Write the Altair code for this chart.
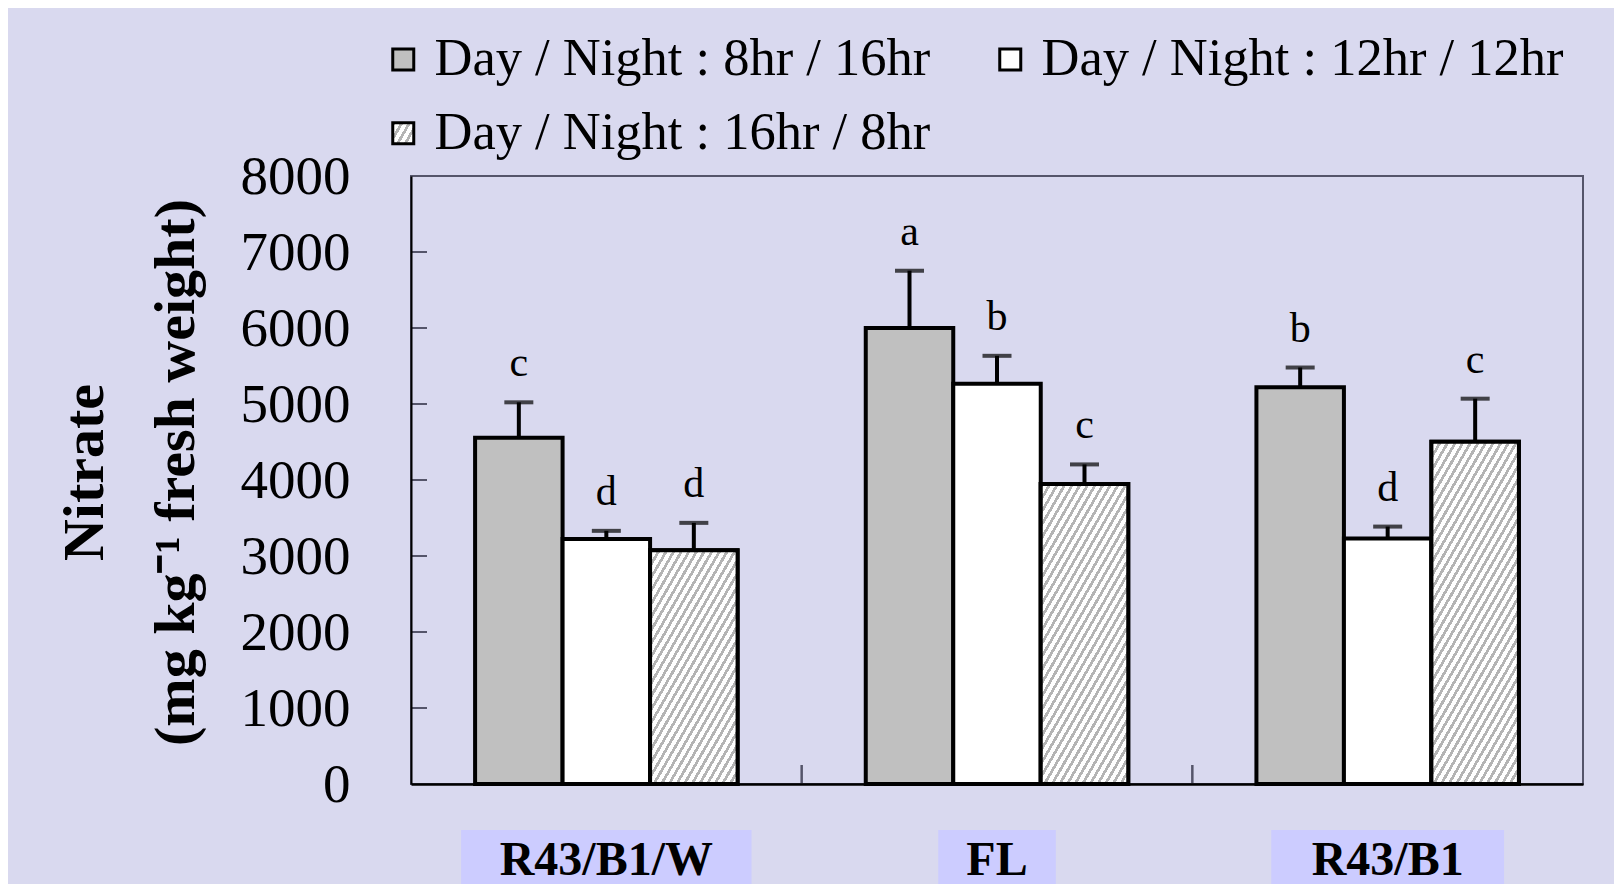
import math
import json
import altair as alt
import pandas as pd

# ---------------- data ----------------
categories = ["R43/B1/W", "FL", "R43/B1"]
series = ["Day / Night : 8hr / 16hr", "Day / Night : 12hr / 12hr", "Day / Night : 16hr / 8hr"]

values_8_16 = [4556, 6000, 5220]
values_12_12 = [3225, 5266, 3230]
values_16_8 = [3077, 3946, 4504]

se_8_16 = [466, 754, 260]
se_12_12 = [106, 368, 157]
se_16_8 = [359, 259, 566]

letters_8_16 = ["c", "a", "b"]
letters_12_12 = ["d", "b", "d"]
letters_16_8 = ["d", "c", "c"]

y_ticks = [0, 1000, 2000, 3000, 4000, 5000, 6000, 7000, 8000]

rows = []
for s, vals, ses, lets in [
    (series[0], values_8_16, se_8_16, letters_8_16),
    (series[1], values_12_12, se_12_12, letters_12_12),
    (series[2], values_16_8, se_16_8, letters_16_8),
]:
    for c, v, e, l in zip(categories, vals, ses, lets):
        rows.append({"category": c, "series": s, "value": v, "se": e, "letter": l})
df = pd.DataFrame(rows)
df["hi"] = df["value"] + df["se"]
ticks_df = pd.DataFrame({"value": y_ticks})
bounds_df = pd.DataFrame({"category": categories[1:]})

# ---------------- layout / style ----------------
W, H = 1172, 608
Y_MAX = 8000
PAD_OUTER = 0.7325
BAR_W = (W / 3) / (3 + 2 * PAD_OUTER)
FONT = "Liberation Serif"
GRAY = "#c0c0c0"
HATCH_LINE = "#b4b4b4"
HATCH_ANGLE = math.radians(60)
HATCH_PERIOD = 6.6
HATCH_FRAC = 0.42


def hatch_gradient(w, h):
    a = (w / h) * math.tan(HATCH_ANGLE)
    b = 1.0
    s = (a + b) / (a * a + b * b)
    d = w * math.sin(HATCH_ANGLE) + h * math.cos(HATCH_ANGLE)
    n = d / HATCH_PERIOD
    stops = []
    k = 0
    while k / n < 1:
        o0 = round(k / n, 5)
        o1 = round(min((k + HATCH_FRAC) / n, 1), 5)
        o2 = round(min((k + 1) / n, 1), 5)
        stops += [
            {"offset": o0, "color": HATCH_LINE},
            {"offset": o1, "color": HATCH_LINE},
            {"offset": o1, "color": "#ffffff"},
            {"offset": o2, "color": "#ffffff"},
        ]
        k += 1
    return {"gradient": "linear", "x1": 0, "y1": 0,
            "x2": round(s * a, 5), "y2": round(s * b, 5), "stops": stops}


legend_grad_expr = json.dumps(hatch_gradient(21, 21))

# legend lays entries out column by column: order so rows read 8/16, 12/12 then 16/8
legend_order = [series[0], series[2], series[1]]
legend_colors = {series[0]: GRAY, series[1]: "#ffffff", series[2]: {"expr": legend_grad_expr}}

x_scale = alt.Scale(domain=categories, paddingInner=0, paddingOuter=0)
xo_scale = alt.Scale(domain=series, paddingInner=0, paddingOuter=PAD_OUTER)
y_scale = alt.Scale(domain=[0, Y_MAX], nice=False, zero=True)

x_axis = alt.Axis(
    title=None, ticks=False, labelAngle=0, labelFont=FONT, labelFontWeight="bold",
    labelFontSize=48, labelPadding=52, labelColor="black", labelLimit=1000,
    domainColor="black", domainWidth=2.5, grid=False, zindex=1,
)
y_axis = alt.Axis(
    values=y_ticks, format="d", ticks=False, grid=False, labelFont=FONT, labelFontSize=55,
    labelPadding=61, labelColor="black", domainColor="black", domainWidth=2,
    title=["Nitrate", "(mg kg\u207b\u00b9 fresh weight)"], titleFont=FONT,
    titleFontSize=58, titleFontWeight="bold", titleColor="black", titleLineHeight=91,
    titleAngle=270, titleAlign="center", titleBaseline="bottom",
    titleX=-297, titleY=296, zindex=1,
)


def X(**kw):
    return alt.X("category:N", scale=x_scale, axis=x_axis, **kw)


def XO():
    return alt.XOffset("series:N", scale=xo_scale)


def Y(field):
    return alt.Y(f"{field}:Q", scale=y_scale, axis=y_axis)


base = alt.Chart(df)

bars = base.mark_bar(stroke="black", strokeWidth=4).encode(
    x=X(), xOffset=XO(), y=Y("value"),
    fill=alt.Fill(
        "series:N",
        scale=alt.Scale(domain=legend_order, range=[legend_colors[s] for s in legend_order]),
        legend=alt.Legend(
            title=None, orient="none", legendX=-34, legendY=-143, columns=2,
            symbolType="square", symbolSize=441, symbolStrokeColor="black",
            symbolStrokeWidth=3, labelFont=FONT, labelFontSize=52.5, labelColor="black",
            labelOffset=5, rowPadding=21, columnPadding=53, padding=0, labelLimit=1000,
        ),
    ),
)

hatch_layers = []
for i, c in enumerate(categories):
    h_px = values_16_8[i] * H / Y_MAX
    grad = hatch_gradient(BAR_W, h_px)
    hatch_layers.append(
        base.transform_filter(
            (alt.datum.category == c) & (alt.datum.series == series[2])
        ).mark_bar(fill=grad, stroke="black", strokeWidth=4).encode(
            x=X(), xOffset=XO(), y=Y("value")
        )
    )

err = base.mark_rule(color="black", strokeWidth=4).encode(
    x=X(), xOffset=XO(), y=Y("value"), y2="hi:Q"
)
caps = base.mark_tick(color="black", thickness=4, size=29).encode(
    x=X(), xOffset=XO(), y=Y("hi")
)
letters = base.mark_text(
    font=FONT, fontSize=42, color="black", baseline="alphabetic", dy=-26
).encode(x=X(), xOffset=XO(), y=Y("hi"), text="letter:N")

y_tick_marks = alt.Chart(ticks_df).mark_rule(color="#55556a", strokeWidth=2).encode(
    y=Y("value"), x=alt.value(0), x2=alt.value(16)
)
x_tick_marks = alt.Chart(bounds_df).mark_rule(color="#55556a", strokeWidth=2.5).encode(
    x=X(bandPosition=0), y=alt.value(H - 19), y2=alt.value(H)
)

box_layers = []
for c in categories:
    bw = len(c) * 0.6 * 48 + 60
    box_layers.append(
        alt.Chart(pd.DataFrame({"category": [c]})).mark_bar(
            color="#ccccff", width=bw
        ).encode(x=X(), y=alt.value(H + 46), y2=alt.value(H + 140))
    )

chart = alt.layer(
    *box_layers, bars, *hatch_layers, err, caps, letters, y_tick_marks, x_tick_marks
).properties(
    width=W, height=H,
    autosize=alt.AutoSizeParams(type="none"),
    padding={"left": 403, "top": 168, "right": 31, "bottom": 100},
    background="#d9d9ef",
).configure_view(stroke="#55556a", strokeWidth=2)

chart.save("out.html", embed_options={"renderer": "svg", "actions": False})
